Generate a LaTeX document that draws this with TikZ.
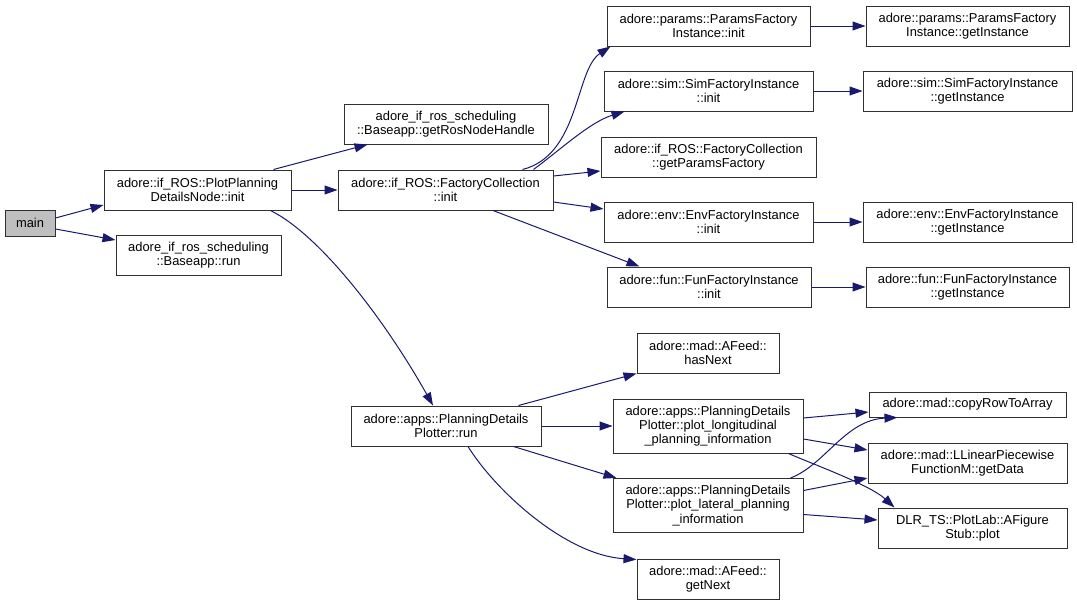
\documentclass[tikz,border=0pt]{standalone}
\usepackage{fontspec}
\setmainfont{Liberation Sans}
\usetikzlibrary{arrows.meta}
\definecolor{edgeblue}{HTML}{191970}
\definecolor{boxline}{HTML}{303030}
\definecolor{mainfill}{HTML}{BFBFBF}
\tikzset{
  fn/.style={draw=boxline, line width=1pt, fill=white, inner sep=0pt, align=center,
    font=\fontsize{12.9}{14.3}\selectfont, minimum height=40pt},
  call/.style={draw=edgeblue, line width=1pt, -{Triangle[length=13pt,width=9pt]}, fill=none},
}
\begin{document}
\begin{tikzpicture}[x=1pt,y=1pt]
\useasboundingbox (0,0) rectangle (1077,-605);
% nodes (x, -y in pixel coordinates)
\node[fn, fill=mainfill, minimum width=50pt, minimum height=26pt] (main) at (30,-223) {main};
\node[fn, minimum width=187pt] (ppinit) at (197.5,-190) {adore::if\_ROS::PlotPlanning\\DetailsNode::init};
\node[fn, minimum width=165pt] (brun) at (198.5,-255) {adore\_if\_ros\_scheduling\\::Baseapp::run};
\node[fn, minimum width=204pt] (rosh) at (446,-124) {adore\_if\_ros\_scheduling\\::Baseapp::getRosNodeHandle};
\node[fn, minimum width=215pt] (fcinit) at (445.5,-190) {adore::if\_ROS::FactoryCollection\\::init};
\node[fn, minimum width=203pt] (pinit) at (708.5,-26) {adore::params::ParamsFactory\\Instance::init};
\node[fn, minimum width=209pt] (sinit) at (708.5,-91) {adore::sim::SimFactoryInstance\\::init};
\node[fn, minimum width=215pt] (gpf) at (708.5,-157) {adore::if\_ROS::FactoryCollection\\::getParamsFactory};
\node[fn, minimum width=209pt] (einit) at (708.5,-222) {adore::env::EnvFactoryInstance\\::init};
\node[fn, minimum width=204pt] (finit) at (709,-287) {adore::fun::FunFactoryInstance\\::init};
\node[fn, minimum width=203pt] (pget) at (967.5,-26) {adore::params::ParamsFactory\\Instance::getInstance};
\node[fn, minimum width=209pt] (sget) at (967.5,-91) {adore::sim::SimFactoryInstance\\::getInstance};
\node[fn, minimum width=209pt] (eget) at (967.5,-222) {adore::env::EnvFactoryInstance\\::getInstance};
\node[fn, minimum width=203pt] (fget) at (967.5,-287) {adore::fun::FunFactoryInstance\\::getInstance};
\node[fn, minimum width=190pt] (prun) at (446,-426) {adore::apps::PlanningDetails\\Plotter::run};
\node[fn, minimum width=142pt] (hasn) at (708,-353) {adore::mad::AFeed::\\hasNext};
\node[fn, minimum width=190pt, minimum height=54pt] (plong) at (708,-426) {adore::apps::PlanningDetails\\Plotter::plot\_longitudinal\\\_planning\_information};
\node[fn, minimum width=190pt, minimum height=54pt] (plat) at (708,-505.5) {adore::apps::PlanningDetails\\Plotter::plot\_lateral\_planning\\\_information};
\node[fn, minimum width=142pt] (getn) at (708,-579) {adore::mad::AFeed::\\getNext};
\node[fn, minimum width=197pt, minimum height=25pt] (copy) at (967.5,-404.5) {adore::mad::copyRowToArray};
\node[fn, minimum width=199pt] (lin) at (967.5,-463) {adore::mad::LLinearPiecewise\\FunctionM::getData};
\node[fn, minimum width=189pt] (afig) at (972.5,-528) {DLR\_TS::PlotLab::AFigure\\Stub::plot};
% edges
\draw[call] ([yshift=5pt]main.east) -- ([yshift=-15pt]ppinit.west);
\draw[call] ([yshift=-6pt]main.east) -- ([yshift=15pt]brun.west);
\draw[call] ([xshift=-18pt]ppinit.north east) -- ([xshift=24pt]rosh.south west);
\draw[call] (ppinit.east) -- (fcinit.west);
\draw[call] ([xshift=-21pt]ppinit.south east) .. controls (320,-235) and (385,-320) .. ([xshift=-13pt]prun.north);
\draw[call] ([xshift=-31pt]fcinit.north east) .. controls (580,-155) and (575,-70) .. ([xshift=4pt]pinit.south west);
\draw[call] ([xshift=-20pt]fcinit.north east) .. controls (560,-150) and (590,-122) .. ([xshift=21pt]sinit.south west);
\draw[call] ([yshift=14pt]fcinit.east) -- ([yshift=-14pt]gpf.west);
\draw[call] ([yshift=-12pt]fcinit.east) -- ([yshift=13pt]einit.west);
\draw[call] ([xshift=47.5pt]fcinit.south) -- ([xshift=33pt]finit.north west);
\draw[call] (pinit.east) -- (pget.west);
\draw[call] (sinit.east) -- (sget.west);
\draw[call] (einit.east) -- (eget.west);
\draw[call] (finit.east) -- (fget.west);
\draw[call] ([xshift=-23pt]prun.north east) -- (hasn.south west);
\draw[call] (prun.east) -- (plong.west);
\draw[call] ([xshift=-28pt]prun.south east) -- ([xshift=4pt]plat.north west);
\draw[call] ([xshift=22pt]prun.south) .. controls (495,-490) and (565,-555) .. ([yshift=-1pt]getn.north west);
\draw[call] ([yshift=8pt]plong.east) -- ([yshift=-7.5pt]copy.west);
\draw[call] ([yshift=-13pt]plong.east) -- ([yshift=13pt]lin.west);
\draw[call] ([xshift=-15pt]plong.south east) .. controls (815,-465) and (870,-485) .. ([xshift=17pt]afig.north west);
\draw[call] ([xshift=-13pt]plat.north east) .. controls (825,-465) and (845,-420) .. ([xshift=29pt]copy.south west);
\draw[call] ([yshift=15pt]plat.east) -- ([yshift=-15pt]lin.west);
\draw[call] ([yshift=-9pt]plat.east) -- ([yshift=8pt]afig.west);
\end{tikzpicture}
\end{document}
